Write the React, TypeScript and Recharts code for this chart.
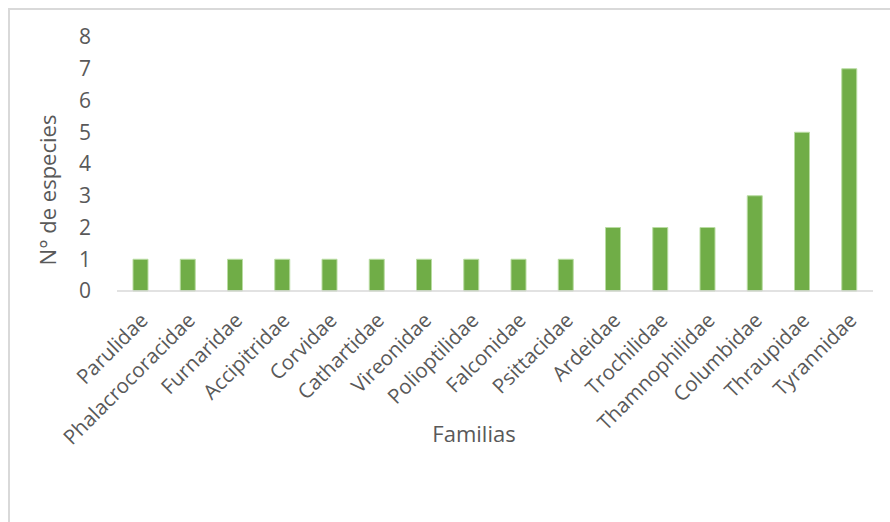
import { BarChart, Bar, XAxis, YAxis } from "recharts";

const familias = [
  "Parulidae",
  "Phalacrocoracidae",
  "Furnaridae",
  "Accipitridae",
  "Corvidae",
  "Cathartidae",
  "Vireonidae",
  "Polioptilidae",
  "Falconidae",
  "Psittacidae",
  "Ardeidae",
  "Trochilidae",
  "Thamnophilidae",
  "Columbidae",
  "Thraupidae",
  "Tyrannidae",
];
const especies = [1, 1, 1, 1, 1, 1, 1, 1, 1, 1, 2, 2, 2, 3, 5, 7];
const yTicks = [0, 1, 2, 3, 4, 5, 6, 7, 8];

const data = familias.map((f, i) => ({ familia: f, n: especies[i] }));

const FONT = "'Open Sans', sans-serif";
const TEXT = "#595959";

function AngledTick(props: any) {
  const { x, y, payload } = props;
  return (
    <text
      x={x}
      y={y}
      dy={22}
      dx={-10}
      textAnchor="end"
      transform={`rotate(-45, ${x}, ${y})`}
      fill={TEXT}
      fontSize={20.5}
      fontFamily={FONT}
    >
      {payload.value}
    </text>
  );
}

// titles placed relative to the plot viewBox
function YTitle(props: any) {
  const { viewBox } = props;
  const cx = viewBox.x + 47;
  const cy = viewBox.y + 153;
  return (
    <text
      x={cx}
      y={cy}
      transform={`rotate(-90, ${cx}, ${cy})`}
      textAnchor="middle"
      dominantBaseline="central"
      fill={TEXT}
      fontSize={22}
      fontFamily={FONT}
    >
      N° de especies
    </text>
  );
}

function XTitle(props: any) {
  const { viewBox } = props;
  return (
    <text
      x={viewBox.x + 357}
      y={viewBox.y + 151}
      textAnchor="middle"
      fill={TEXT}
      fontSize={22}
      fontFamily={FONT}
    >
      Familias
    </text>
  );
}

export default function App() {
  return (
    <div style={{ position: "absolute", left: 0, top: 0, width: 890, height: 522, background: "#fff", overflow: "hidden" }}>
      <div
        style={{
          position: "absolute",
          left: 8,
          top: 8,
          width: 900,
          height: 540,
          border: "2px solid #d9d9d9",
          boxSizing: "border-box",
        }}
      />
      <BarChart
        width={890}
        height={522}
        data={data}
        margin={{ top: 37, right: 17, left: 0, bottom: 0 }}
        style={{ position: "absolute", left: 0, top: 0 }}
      >
        <XAxis
          dataKey="familia"
          interval={0}
          height={231}
          tick={<AngledTick />}
          tickLine={false}
          axisLine={{ stroke: "#d9d9d9", strokeWidth: 1.5 }}
          label={<XTitle />}
        />
        <YAxis
          width={117}
          domain={[0, 8]}
          ticks={yTicks}
          interval={0}
          tickLine={false}
          axisLine={false}
          tickMargin={20}
          tick={{ fill: TEXT, fontSize: 21, fontFamily: FONT }}
          label={<YTitle />}
        />
        <Bar
          dataKey="n"
          fill="#70ad47"
          stroke="#b9dca2"
          strokeWidth={1}
          barSize={15}
          isAnimationActive={false}
        />
      </BarChart>
    </div>
  );
}
